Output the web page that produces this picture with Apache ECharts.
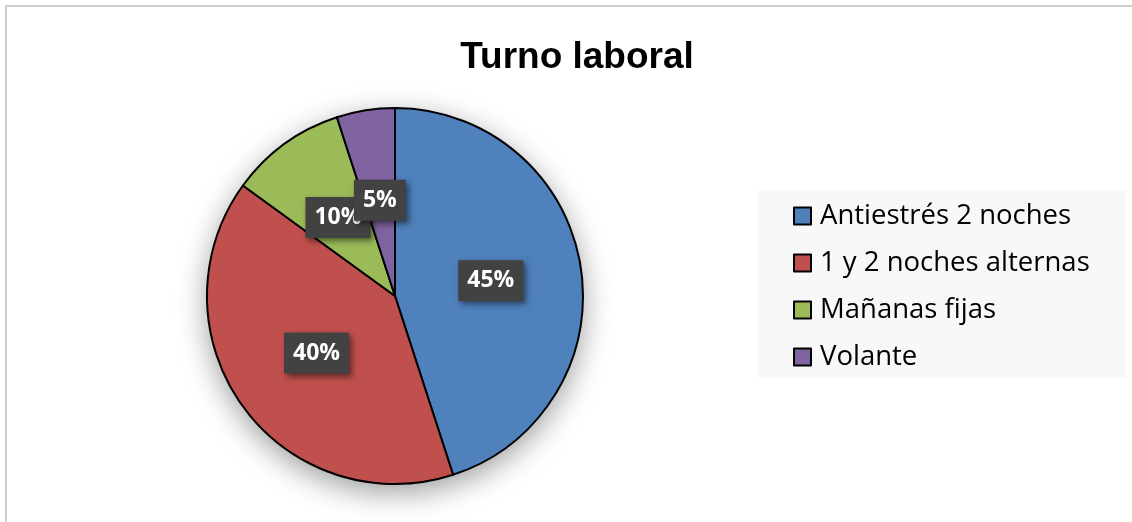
<!DOCTYPE html>
<html>
<head>
<meta charset="utf-8">
<script src="https://cdn.jsdelivr.net/npm/echarts@6/dist/echarts.min.js"></script>
<style>
    html, body { margin: 0; padding: 0; background: #fff; }
    #chart { width: 1132px; height: 522px; }
</style>
</head>
<body>
<div id="chart"></div>
<script>
var categories = ['Antiestrés 2 noches', '1 y 2 noches alternas', 'Mañanas fijas', 'Volante'];
var values = [45, 40, 10, 5];
var colors = ['#4F81BD', '#C0504D', '#9BBB59', '#8064A2'];

var pieData = [];
for (var i = 0; i < categories.length; i++) {
    pieData.push({value: values[i], name: categories[i], itemStyle: {color: colors[i]}});
}
var total = values.reduce(function (a, b) { return a + b; }, 0);

var chart = echarts.init(document.getElementById('chart'), null, {renderer: 'canvas'});

var option = {
    backgroundColor: '#fff',
    animation: false,
    title: {
        text: 'Turno laboral',
        left: 572,
        textAlign: 'center',
        top: 34,
        textStyle: {
            fontFamily: 'Liberation Sans',
            fontWeight: 'bold',
            fontSize: 37,
            color: '#000'
        }
    },
    graphic: [{
        type: 'rect',
        z: -10,
        shape: {x: 6, y: 6, width: 1200, height: 600},
        style: {fill: 'none', stroke: '#bfbfbf', lineWidth: 1.5}
    }, {
        type: 'rect',
        z: -5,
        shape: {x: 758, y: 190, width: 368, height: 188},
        style: {fill: '#f8f8f8'}
    }],
    legend: {
        orient: 'vertical',
        left: 793,
        top: 201,
        padding: 0,
        icon: 'rect',
        itemWidth: 17,
        itemHeight: 17,
        itemGap: 17,
        data: categories,
        itemStyle: {borderColor: '#000', borderWidth: 2},
        textStyle: {
            fontFamily: 'Open Sans',
            fontSize: 27.5,
            lineHeight: 30,
            color: '#000',
            padding: [0, 0, 0, 4]
        }
    },
    series: [{
        // sombra del círculo completo, debajo de las porciones
        type: 'pie',
        name: 'sombra',
        silent: true,
        z: 1,
        center: [395, 296],
        radius: 188,
        label: {show: false},
        labelLine: {show: false},
        itemStyle: {
            color: '#fff',
            shadowBlur: 30,
            shadowColor: 'rgba(0,0,0,0.4)',
            shadowOffsetY: 8
        },
        data: [{value: total, name: 'sombra'}]
    }, {
        type: 'pie',
        name: 'Turno laboral',
        z: 2,
        center: [395, 296],
        radius: 188,
        startAngle: 90,
        clockwise: true,
        avoidLabelOverlap: false,
        minShowLabelAngle: 0,
        labelLayout: {hideOverlap: false},
        itemStyle: {borderColor: '#000', borderWidth: 2},
        label: {
            show: true,
            position: 'inside',
            formatter: '{d}%',
            fontFamily: 'Open Sans',
            fontWeight: 'bold',
            fontSize: 23,
            lineHeight: 23,
            color: '#fff',
            backgroundColor: '#424242',
            padding: [10, 9, 8, 9],
            overflow: 'none',
            shadowColor: 'rgba(0,0,0,0.5)',
            shadowBlur: 6,
            shadowOffsetX: 3,
            shadowOffsetY: 3
        },
        labelLine: {show: false},
        emphasis: {disabled: true},
        data: pieData
    }]
};
chart.setOption(option);
</script>
</body>
</html>
